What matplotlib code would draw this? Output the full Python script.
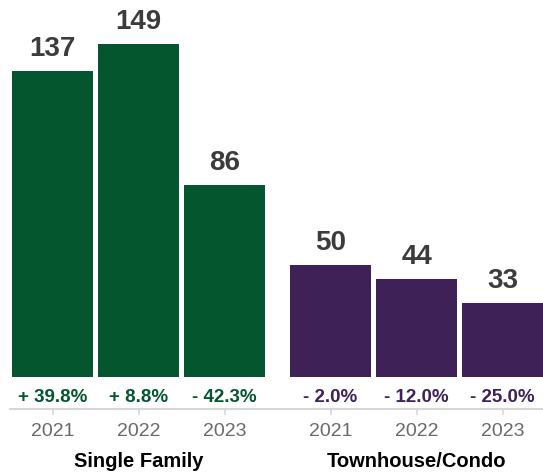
import matplotlib
matplotlib.use("Agg")
import matplotlib.pyplot as plt

plt.rcParams['font.family'] = ['Liberation Sans', 'DejaVu Sans']

groups = ["Single Family", "Townhouse/Condo"]
years = ["2021", "2022", "2023"]
single_family = [137, 149, 86]
townhouse_condo = [50, 44, 33]
sf_change = ["+ 39.8%", "+ 8.8%", "- 42.3%"]
tc_change = ["- 2.0%", "- 12.0%", "- 25.0%"]

green = "#04562F"
purple = "#3E2157"
value_color = "#3C3C3C"
year_color = "#6A6A6A"
axis_color = "#D6D6D6"

W, H = 543, 475
fig = plt.figure(figsize=(W / 100, H / 100), dpi=100)
# axes spans from the axis line (y=409 px) to the top of the figure
ax = fig.add_axes([10 / W, (H - 409) / H, 1 - 10 / W, 409 / H])

pitch = 86.0
group_offset = 3 + 20 / pitch
bar_w = 81 / pitch
pos_sf = [i for i in range(3)]
pos_tc = [group_offset + i for i in range(3)]

ax.bar(pos_sf, single_family, width=bar_w, color=green, zorder=2)
ax.bar(pos_tc, townhouse_condo, width=bar_w, color=purple, zorder=2)

px_per_unit = 2.235
ax.set_ylim(-32 / px_per_unit, 409 / px_per_unit - 32 / px_per_unit)
ax.set_xlim(-42.5 / pitch, (543 - 52.5) / pitch)

# value labels above bars
for xs, vals in ((pos_sf, single_family), (pos_tc, townhouse_condo)):
    for x, v in zip(xs, vals):
        ax.annotate(str(v), xy=(x, v), xytext=(0, 15), textcoords="offset pixels",
                    ha="center", va="baseline", fontsize=20, fontweight="bold",
                    color=value_color)

# year-over-year change under bars
for xs, labels, col in ((pos_sf, sf_change, green), (pos_tc, tc_change, purple)):
    for x, t in zip(xs, labels):
        ax.annotate(t, xy=(x, 0), xytext=(0, -25), textcoords="offset pixels",
                    ha="center", va="baseline", fontsize=13.5, fontweight="bold",
                    color=col)

# year labels and group names below the axis line
for x, y in zip(pos_sf + pos_tc, years + years):
    ax.annotate(y, xy=(x, 0), xycoords=("data", "axes fraction"),
                xytext=(0, -27), textcoords="offset pixels",
                ha="center", va="baseline", fontsize=14, color=year_color)

for xs, g in ((pos_sf, groups[0]), (pos_tc, groups[1])):
    ax.annotate(g, xy=(xs[1], 0), xycoords=("data", "axes fraction"),
                xytext=(0, -58), textcoords="offset pixels",
                ha="center", va="baseline", fontsize=14.5, fontweight="bold",
                color="black")

for s in ("top", "right", "left"):
    ax.spines[s].set_visible(False)
ax.spines["bottom"].set_color(axis_color)
ax.spines["bottom"].set_linewidth(1.5)
ax.set_yticks([])
ax.set_xticks(pos_sf + pos_tc)
ax.set_xticklabels([])
ax.tick_params(axis="x", length=4, width=1.2, color=axis_color)

fig.savefig("out.png", dpi=100)
